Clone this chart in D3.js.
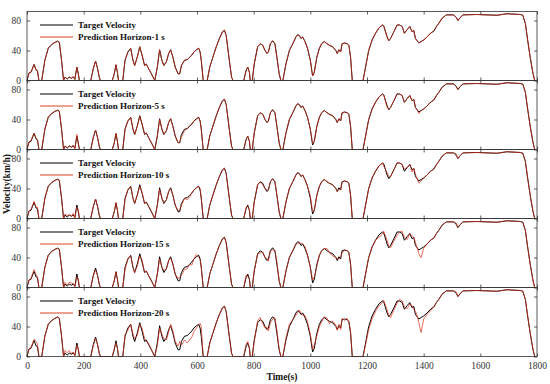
<!DOCTYPE html>
<html>
<head>
<meta charset="utf-8">
<script src="https://cdn.jsdelivr.net/npm/d3@7"></script>
<style>
  body { margin: 0; background: #fff; }
  svg text { font-family: "Liberation Serif", "Times New Roman", serif; }
</style>
</head>
<body>
<div id="chart"></div>
<script>
// sample times (s), shared by every series
const timeS = [
  0,7,14,25,32,37,42,52,63,75,
  87,99,108,114,122,129,134,142,149,158,
  163,169,176,181,185,225,234,242,249,255,
  259,301,308,314,319,323,338,346,356,366,
  374,380,389,398,406,415,421,429,439,451,
  460,468,476,483,492,500,507,515,523,533,
  539,545,556,566,574,582,589,598,606,611,
  615,622,636,645,656,668,679,690,697,703,
  714,722,727,765,773,779,785,788,795,802,
  814,823,832,840,847,852,859,867,875,882,
  890,896,903,914,926,938,949,955,961,967,
  973,981,990,1000,1008,1014,1023,1032,1040,1049,
  1059,1067,1079,1090,1095,1101,1107,1112,1121,1130,
  1136,1142,1148,1186,1195,1206,1218,1230,1242,1254,
  1259,1271,1277,1283,1295,1306,1315,1324,1332,1342,
  1351,1359,1365,1371,1377,1383,1391,1400,1412,1424,
  1436,1445,1453,1465,1480,1506,1515,1521,1529,1539,
  1588,1659,1694,1741,1750,1759,1767,1776,1786,1792,
  1800
];

const targetVelocity = [
  0,10,11,21.5,14,13,0,0,27,43,
  48,51,52.5,51,27,0,4.5,2,4.5,3,
  5,1.5,18,9,0,0,16,26,16,4.5,
  0,0,9,21,11,0,0,27,38,43,
  27,20,31,45,34,20,22,16,9,0,
  18,41,27,20,25,36,41,31,18,9,
  9,20,27,28,31,34,38,41,43,38,
  27,0,0,18,31,45,56,65,67,60,
  27,4.5,0,0,13,18,11,0,0,22,
  45,49,47,40,36,38,49,53,49,31,
  9,0,0,22,40,49,58,61,60,56,
  58,52,43,27,6,11,31,43,49,52,
  49,47,45,40,36,41,38,49,50,49,
  47,31,0,0,18,40,54,63,70,74,
  73,58,53,56,65,74,74,72,63,68,
  72,65,67,56,53,50,52,54,58,63,
  66,72,76,83,87.5,87.5,84,80,84,87.5,
  88,87,89,88,87,76,54,31,9,0,
  0
];

const pred1 = [
  0,10,11,21,14,13,0,0,27,43,
  48,51,52,51,27,0,4.5,2,4.5,3,
  5,1.5,18,9,0,0,16,26,16,4.5,
  0,0,9,21,11,0,0,27,38,43,
  27,20,31,45,34,20,22,16,9,0,
  18,41,27,20,25,36,41,31,18,9,
  9,20,27,28,31,34,38,41,43,38,
  27,0,0,18,31,45,56,65,67,60,
  27,4.5,0,0,13,18,11,0,0,22,
  45,49,47,40,36,38,49,53,49,31,
  9,0,0,22,40,49,58,61,60,56,
  58,52,43,27,6,11,31,43,49,52,
  49,47,45,40,36,41,38,49,50,49,
  47,31,0,0,18,40,54,63,70,74,
  73,58,53,56,65,74,74,72,63,68,
  72,65,67,56,53,50,52,54,58,63,
  66,72,76,83,87.5,87.5,84,80,84,87.5,
  88,87,89,88,87,76,54,31,9,0,
  0
];

const pred5 = [
  0,10,12,22,15,13,0,0,27,43,
  48,51,52,51,27,0,5,2,5,3,
  6,1,20,7,0,0,16,26,16,4,
  0,0,9,22,11,0,0,27,38,43,
  28,20,31,44,34,21,22,16,9,0,
  18,40,28,20,25,36,41,30,19,9,
  10,17,25,28,32,34,38,40,43,38,
  27,0,0,18,31,45,56,65,67,60,
  27,4,0,0,13,18,11,0,0,22,
  45,49,47,40,36,38,49,53,49,31,
  9,0,0,22,40,49,58,61,60,56,
  58,52,43,27,8,11,31,43,49,52,
  49,47,45,40,36,41,38,49,50,49,
  47,31,0,0,18,40,54,63,70,74,
  73,56,54,56,65,74,74,72,63,68,
  72,65,67,56,53,48,52,54,58,63,
  66,72,76,83,87.5,87.5,84,80,84,87.5,
  88,87,89,88,87,76,54,31,9,0,
  0
];

const pred10 = [
  0,10,12,23,15,15,0,0,27,43,
  48,51,52,51,27,0,6,4,5,3,
  7,1,15,12,0,0,16,26,16,4,
  0,0,9,21,12,0,0,25,38,43,
  27,21,31,43,35,20,22,17,9,0,
  18,39,28,21,25,36,40,31,18,10,
  12,17,27,25,29,34,38,41,43,40,
  27,0,0,18,31,45,56,65,67,60,
  27,4,0,0,15,16,11,0,0,22,
  45,49,45,40,38,38,49,53,49,31,
  9,0,0,22,40,49,58,61,60,56,
  58,52,43,30,9,11,31,43,49,52,
  49,47,45,40,36,39,38,49,50,49,
  47,31,0,0,18,40,54,63,70,74,
  70,61,56,56,65,74,74,72,66,68,
  72,62,67,59,53,47,50,54,58,63,
  66,72,76,83,87.5,87.5,86,80,84,87.5,
  88,87,89,88,87,76,54,31,9,0,
  0
];

const pred15 = [
  0,10,12,24,17,14,0,0,27,43,
  48,51,52,51,27,0,7,3,7,6,
  5,1,14,12,0,0,16,23,16,4,
  0,0,9,21,11,0,0,24,38,43,
  27,20,28,42,37,20,22,16,9,0,
  18,38,27,23,25,36,39,31,18,12,
  14,16,24,25,31,30,38,44,40,38,
  27,0,0,18,31,45,56,65,67,60,
  27,4,0,0,16,15,11,0,0,22,
  45,46,47,40,39,35,49,50,49,34,
  9,0,0,22,40,49,58,58,60,59,
  58,55,43,27,10,14,28,43,49,52,
  52,47,42,40,39,38,41,46,50,49,
  47,31,0,0,18,40,54,63,67,71,
  75,63,55,53,62,70,74,75,67,64,
  72,69,67,60,53,45,40,52,58,63,
  66,72,76,83,87.5,87.5,86,80,84,87.5,
  88,87,89,88,87,76,54,31,9,0,
  0
];

const pred20 = [
  0,10,12,23,20,17,0,0,27,43,
  48,51,53,51,27,0,8,5,8,4,
  6,1,15,11,0,0,14,24,16,4,
  0,0,11,18,11,0,0,29,35,43,
  30,24,28,43,38,24,20,18,9,0,
  15,38,30,24,22,33,43,34,20,14,
  20,15,22,18,22,26,33,38,42,44,
  40,0,0,18,31,45,56,65,67,60,
  27,4,0,0,16,20,11,0,0,20,
  48,52,44,38,39,34,45,50,52,35,
  9,0,0,25,43,49,55,58,62,58,
  55,55,46,30,10,15,28,40,46,53,
  51,44,47,42,35,43,36,51,48,51,
  45,34,0,0,16,36,50,60,67,72,
  75,62,55,52,62,71,76,74,66,64,
  70,68,63,60,55,45,32,50,56,61,
  66,72,76,83,87.5,87.5,86,80,84,87.5,
  88,87,89,88,87,76,54,31,9,0,
  0
];

const horizons = [1, 5, 10, 15, 20];
const predictions = [pred1, pred5, pred10, pred15, pred20];
const xTicks = [0, 200, 400, 600, 800, 1000, 1200, 1400, 1600, 1800];
const yTicks = [0, 40, 80];

const fullWidth = 550, fullHeight = 384;
const margin = { top: 11.5, left: 27, right: 13 };
const width = fullWidth - margin.left - margin.right;
const panelH = 69;

const svg = d3.select("#chart")
    .append("svg")
    .attr("width", fullWidth)
    .attr("height", fullHeight);

let x = d3.scaleLinear().domain([0, 1800]).range([0, width]);
let y = d3.scaleLinear().domain([0, 92]).range([panelH, 0]);

let line = d3.line()
    .x(d => x(d[0]))
    .y(d => y(d[1]));

const targetPts = timeS.map((t, i) => [t, targetVelocity[i]]);
const axisColor = "#333";

horizons.forEach((h, k) => {
    let g = svg.append("g")
        .attr("transform", `translate(${margin.left},${margin.top + k * panelH})`);

    let predPts = timeS.map((t, i) => [t, predictions[k][i]]);

    // lines
    g.append("path")
        .datum(targetPts)
        .attr("fill", "none")
        .attr("stroke", "#000")
        .attr("stroke-width", 1)
        .attr("d", line);

    g.append("path")
        .datum(predPts)
        .attr("fill", "none")
        .attr("stroke", "#e0301a")
        .attr("stroke-opacity", 0.7)
        .attr("stroke-width", 1)
        .attr("d", line);

    // axes, ticks pointing inward
    let bottom = g.append("g")
        .attr("transform", `translate(0,${panelH})`)
        .call(d3.axisBottom(x).tickValues(xTicks).tickFormat(d3.format("d"))
            .tickSizeInner(-3).tickSizeOuter(0).tickPadding(6));
    if (k < horizons.length - 1) bottom.selectAll("text").remove();

    g.append("g")
        .call(d3.axisTop(x).tickValues(xTicks).tickSizeInner(-3).tickSizeOuter(0).tickFormat(""));

    g.append("g")
        .call(d3.axisLeft(y).tickValues(yTicks).tickSizeInner(-3).tickSizeOuter(0).tickPadding(6));

    g.append("g")
        .attr("transform", `translate(${width},0)`)
        .call(d3.axisRight(y).tickValues(yTicks).tickSizeInner(-3).tickSizeOuter(0).tickFormat(""));

    g.selectAll(".domain").remove();
    g.selectAll(".tick line").attr("stroke", axisColor).attr("stroke-width", 0.8);
    g.selectAll(".tick text")
        .style("font-size", "9.5px")
        .attr("fill", axisColor);

    g.append("rect")
        .attr("width", width)
        .attr("height", panelH)
        .attr("fill", "none")
        .attr("stroke", axisColor)
        .attr("stroke-width", 0.8);

    // legend
    let legend = g.append("g").attr("transform", "translate(13,0)");
    let items = [
        { label: "Target Velocity", color: "#000" },
        { label: `Prediction Horizon-${h} s`, color: "#d9461f" }
    ];
    items.forEach((it, j) => {
        let yy = 13.5 + j * 12;
        legend.append("line")
            .attr("x1", 0).attr("x2", 33)
            .attr("y1", yy).attr("y2", yy)
            .attr("stroke", it.color)
            .attr("stroke-width", 1.2);
        legend.append("text")
            .attr("x", 38)
            .attr("y", yy + 3)
            .style("font-size", "9px")
            .style("font-weight", "bold")
            .attr("fill", "#111")
            .text(it.label);
    });
});

svg.append("text")
    .attr("x", margin.left + width / 2)
    .attr("y", 380)
    .attr("text-anchor", "middle")
    .style("font-size", "9.5px")
    .style("font-weight", "bold")
    .attr("fill", "#111")
    .text("Time(s)");

svg.append("text")
    .attr("transform", `translate(10,${margin.top + panelH * 2.5}) rotate(-90)`)
    .attr("text-anchor", "middle")
    .style("font-size", "9.5px")
    .style("font-weight", "bold")
    .attr("fill", "#111")
    .text("Velocity(km/h)");
</script>
</body>
</html>
